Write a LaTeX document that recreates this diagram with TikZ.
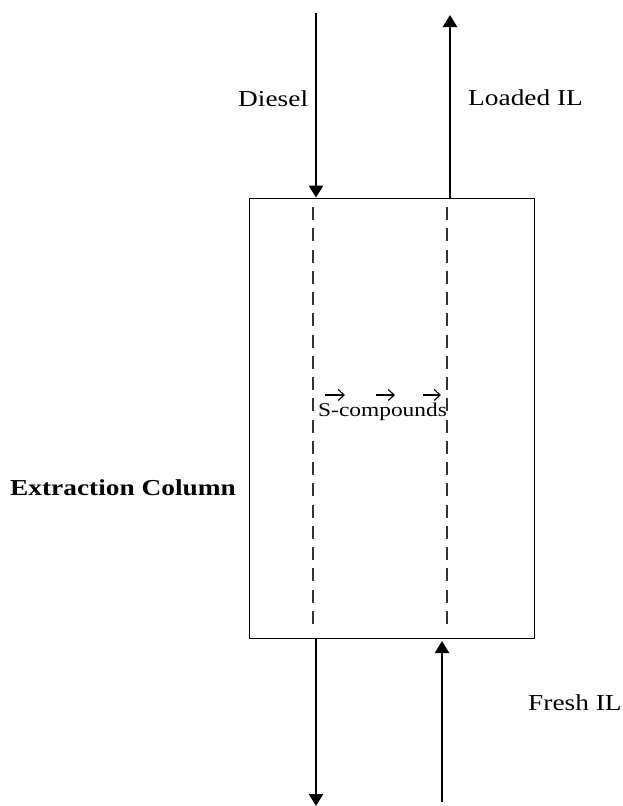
\documentclass[tikz,border=0pt]{standalone}
\usepackage{fontspec}
\setmainfont{Liberation Serif}
\usetikzlibrary{arrows.meta}
\newcommand{\widetext}[1]{\scalebox{1.2}[1]{#1}}

\begin{document}
\begin{tikzpicture}[x=1pt, y=-1pt,
		flow/.style={line width=2.5pt, -{Triangle[length=12pt, width=14pt]}},
		sep/.style={line width=1.7pt, black!80, dash pattern=on 13pt off 8.26pt},
		move/.style={line width=1.1pt, -{Straight Barb[length=6pt, width=11pt, line width=1.1pt]}},
		lbl/.style={anchor=base west, inner sep=0pt, font=\fontsize{22.8}{27}\selectfont}]
					\useasboundingbox (0,0) rectangle (623,806);
					
					\node[draw, line width=0.8pt, minimum width=285pt, minimum height=440pt, inner sep=0pt] (col) at (391.5,418) {};
					
					\coordinate (dieselin) at (316,13);
					\coordinate (dieselout) at (316,806);
					\coordinate (ilout) at (450,15);
					\coordinate (ilin) at (442,802);
					\coordinate (iltip) at (442,641);
					
					\draw[flow] (dieselin) -- (dieselin |- col.north);
					\draw[flow] (ilout |- col.north) -- (ilout);
					\draw[flow] (dieselout |- col.south) -- (dieselout);
					\draw[flow] (ilin) -- (iltip);
					
					\coordinate (A) at (313,207);
					\coordinate (B) at (313,624);
					\coordinate (C) at (447,207);
					\coordinate (D) at (447,624);
					\draw[sep] (A) -- (B);
					\draw[sep] (C) -- (D);
					
					\coordinate (s1) at (325,395);
					\coordinate (t1) at (345,395);
					\coordinate (s2) at (376,395);
					\coordinate (t2) at (395,395);
					\coordinate (s3) at (423,395);
					\coordinate (t3) at (441,395);
					\draw[move] (s1) -- (t1);
					\draw[move] (s2) -- (t2);
					\draw[move] (s3) -- (t3);
					
					\node[lbl] (diesel) at (238,106) {\widetext{Diesel}};
					\node[lbl] (loaded) at (468,105) {\widetext{Loaded IL}};
					\node[lbl] (fresh) at (528,710) {\widetext{Fresh IL}};
					\node[lbl, font=\fontsize{22.8}{27}\selectfont\bfseries] (column) at (10,495) {\widetext{Extraction Column}};
					\node[lbl, font=\fontsize{19.5}{23}\selectfont] (scomp) at (318,416) {\widetext{S-compounds}};
				\end{tikzpicture}
\end{document}
